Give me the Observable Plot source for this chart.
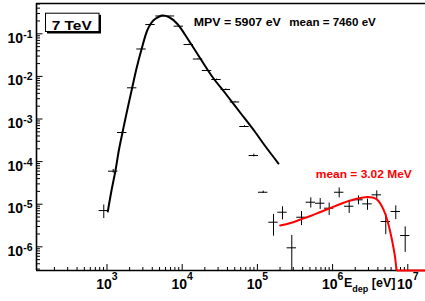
<!DOCTYPE html>
<html><head><meta charset="utf-8">
<script src="https://cdn.jsdelivr.net/npm/d3@7"></script>
<script src="https://cdn.jsdelivr.net/npm/@observablehq/plot@0.6"></script>
<style>
html,body{margin:0;padding:0;background:#fff;}
#chart{width:425px;height:301px;overflow:hidden;}
</style></head><body><div id="chart"></div>
<script>
// ---- data ----
const binWidthDecades = 0.125;

const lowBinCenters = [906,1209,1592,2163,2876,3789,5145,6883,9013,12240,16230,21370,28580,38000,50370,67380,89600];
const lowValues     = [7.1e-6,5.96e-5,4.82e-4,5.40e-3,0.0440,0.165,0.262,0.262,0.151,0.0561,0.0256,0.01374,0.00845,0.00493,0.00251,6.67e-4,1.39e-4];
const lowErrors     = [2.5e-6,6e-6,2e-5,1.2e-4,6e-4,1.5e-3,2e-3,2e-3,1.5e-3,8e-4,5e-4,3e-4,2e-4,1.5e-4,8e-5,3e-5,1e-5];

const highBinCenters = [119500,163800,215700,286700,385900,513000,684300,901000,1224000,1662000,2210000,2912000,3871000,5097000,6925000,9236000];
const highValues     = [1.91e-5,3.78e-6,6.49e-6,9.47e-7,4.95e-6,1.114e-5,1.055e-5,8.06e-6,1.91e-5,8.97e-6,1.268e-5,1.02e-5,1.66e-5,3.93e-6,6.74e-6,1.84e-6];
const highErrors     = [1.2e-6,2e-6,2.2e-6,9e-7,1.8e-6,3e-6,3e-6,2.6e-6,5e-6,2.9e-6,3e-6,3e-6,4e-6,2e-6,2.4e-6,1.1e-6];

const blackCurveX = [1025,1148,1297,1436,1607,1817,2163,2468,2876,3424,3906,4416,5420,6634,8580,12240,17520,25290,37650,59620,94340,128200,190800];
const blackCurveY = [6.74e-6,2.10e-5,6.18e-5,1.82e-4,4.82e-4,1.346e-3,5.40e-3,0.01533,0.0428,0.1195,0.184,0.225,0.269,0.248,0.1717,0.0696,0.02588,0.00968,0.00397,1.383e-3,4.82e-4,2.26e-4,9.02e-5];

const redCurveX = [201000,275600,374300,508300,690500,937800,1274000,1730000,2350000,2912000,3394000,3955000,4470000,5052000,5710000,6260000,6758000,7184000,8000000,17200000];
const redCurveY = [3.16e-6,3.62e-6,4.37e-6,5.28e-6,6.56e-6,8.14e-6,1.011e-5,1.221e-5,1.398e-5,1.476e-5,1.44e-5,1.255e-5,9.32e-6,5.73e-6,2.69e-6,1.26e-6,5.92e-7,2.78e-7,1e-9,1e-12];

const xDomain = [115.5, 1.72e7];
const yDomain = [2.78e-7, 0.5144];
const xMajorTicks = [1e3,1e4,1e5,1e6,1e7];
const yMajorTicks = [1e-1,1e-2,1e-3,1e-4,1e-5,1e-6];
const minorMultipliers = [2,3,4,5,6,7,8,9];
const decades = [1e-7,1e-6,1e-5,1e-4,1e-3,1e-2,1e-1,1e2,1e3,1e4,1e5,1e6,1e7];

const mpvLabel = "MPV = 5907 eV";
const meanLabel = "mean = 7460 eV";
const fitMeanLabel = "mean = 3.02 MeV";
const energyLabel = "7 TeV";

// ---- derived tables ----
const lowPts = lowBinCenters.map((x,i)=>({x, y: lowValues[i], e: lowErrors[i]}));
const highPts = highBinCenters.map((x,i)=>({x, y: highValues[i], e: highErrors[i]}));
const allPts = lowPts.concat(highPts);
const blackCurve = blackCurveX.map((x,i)=>({x, y: blackCurveY[i]}));
const redCurve = redCurveX.map((x,i)=>({x, y: redCurveY[i]}));
const half = Math.pow(10, binWidthDecades/2);
const yMin = yDomain[0];
const clampY = v => Math.max(v, yMin);

const minorX = decades.flatMap(d => minorMultipliers.map(m => m*d)).filter(v => v > xDomain[0] && v < xDomain[1]);
const minorY = decades.flatMap(d => minorMultipliers.map(m => m*d)).filter(v => v > yDomain[0] && v < yDomain[1]);

const W = 425, H = 301, mL = 36, mR = 0, mT = 3, mB = 31;
const innerW = W - mL - mR, innerH = H - mT - mB;
const FONT = "Liberation Sans, Arial, Helvetica, sans-serif";

const plot = Plot.plot({
  width: W, height: H,
  marginLeft: mL, marginRight: mR, marginTop: mT, marginBottom: mB,
  style: {fontFamily: FONT, background: "white", overflow: "visible"},
  x: {type: "log", domain: xDomain, axis: null},
  y: {type: "log", domain: yDomain, axis: null},
  marks: [
    // ticks
    Plot.ruleX(minorX, {x: d=>d, stroke: "black", strokeWidth: 1, insetTop: innerH - 3}),
    Plot.ruleX(xMajorTicks, {x: d=>d, stroke: "black", strokeWidth: 1, insetTop: innerH - 6}),
    Plot.ruleY(minorY, {y: d=>d, stroke: "black", strokeWidth: 1, insetRight: innerW - 4}),
    Plot.ruleY(yMajorTicks, {y: d=>d, stroke: "black", strokeWidth: 1, insetRight: innerW - 6.5}),
    // frame lines
    Plot.ruleY([yDomain[0]], {stroke: "black", strokeWidth: 1.6}),
    Plot.ruleY([yDomain[1]], {stroke: "black", strokeWidth: 1.4}),
    Plot.ruleX([xDomain[0]], {stroke: "black", strokeWidth: 1.6}),
    // data points: horizontal (bin) and vertical (error) bars
    Plot.ruleY(allPts, {y: "y", x1: d => d.x/half, x2: d => d.x*half, stroke: "black", strokeWidth: 1}),
    Plot.ruleX(allPts, {x: "x", y1: d => clampY(d.y - d.e), y2: d => d.y + d.e, stroke: "black", strokeWidth: 1}),
    // fitted curves
    Plot.line(blackCurve, {x: "x", y: "y", stroke: "black", strokeWidth: 2, curve: "catmull-rom"}),
    Plot.line(redCurve, {x: "x", y: d => clampY(d.y), stroke: "#ff0000", strokeWidth: 2, curve: "monotone-x"}),
    // tick labels
    Plot.text(yMajorTicks, {y: d=>d, frameAnchor: "left", dx: -4, dy: 9, textAnchor: "end", lineAnchor: "bottom",
      text: d => `10^${Math.round(Math.log10(d))}`, fontSize: 14, fontWeight: "bold", fill: "black"}),
    Plot.text(xMajorTicks, {x: d=>d, frameAnchor: "bottom", dy: 18.5, textAnchor: "middle", lineAnchor: "bottom",
      text: d => `10^${Math.round(Math.log10(d))}`, fontSize: 14, fontWeight: "bold", fill: "black"}),
    // annotations
    Plot.text([mpvLabel], {text: d=>d, frameAnchor: "top-left", dx: 193.3 - mL, dy: 25 - mT, textAnchor: "start", lineAnchor: "bottom", fontSize: 10.5, fontWeight: "bold", fill: "black"}),
    Plot.text([meanLabel], {text: d=>d, frameAnchor: "top-left", dx: 288.7 - mL, dy: 25 - mT, textAnchor: "start", lineAnchor: "bottom", fontSize: 10.5, fontWeight: "bold", fill: "black"}),
    Plot.text([fitMeanLabel], {text: d=>d, frameAnchor: "top-left", dx: 315.3 - mL, dy: 177.5 - mT, textAnchor: "start", lineAnchor: "bottom", fontSize: 10.5, fontWeight: "bold", fill: "#ff0000"})
  ]
});

document.getElementById("chart").appendChild(plot);
const svg = d3.select(plot);

// superscripts for tick labels & width fitting
svg.selectAll("text").each(function(){
  const t = this.textContent;
  const m = /^10\^(-?\d+)$/.exec(t);
  if (m) {
    const neg = m[1].startsWith("-");
    this.textContent = "10";
    d3.select(this).append("tspan").attr("dy", neg ? -5 : -9.5).attr("font-size", 10.5).text(m[1]);
    return;
  }
  const lengths = {[mpvLabel]: 87, [meanLabel]: 86.6, [fitMeanLabel]: 96};
  if (lengths[t] !== undefined) {
    d3.select(this).attr("textLength", lengths[t]).attr("lengthAdjust", "spacingAndGlyphs");
  }
});

// "7 TeV" pave with shadow
const pave = svg.append("g").attr("text-anchor", "start");
pave.append("rect").attr("x", 47).attr("y", 14.8).attr("width", 54).attr("height", 18.7).attr("fill", "black");
pave.append("rect").attr("x", 45.5).attr("y", 13.2).attr("width", 53.5).attr("height", 18.3).attr("fill", "white").attr("stroke", "black").attr("stroke-width", 1);
pave.append("text").attr("x", 51.7).attr("y", 30).attr("text-anchor", "start").attr("font-family", FONT).attr("font-weight", "bold").attr("font-size", 13)
  .attr("textLength", 40).attr("lengthAdjust", "spacingAndGlyphs").attr("fill", "black").text(energyLabel);

// x axis title E_dep [eV]
const xt = svg.append("text").attr("x", 344).attr("y", 286.7).attr("text-anchor", "start").attr("font-family", FONT).attr("font-weight", "bold").attr("font-size", 12.5).attr("fill", "black");
xt.append("tspan").text("E");
xt.append("tspan").attr("font-size", 9).attr("dy", 5).text("dep");
xt.append("tspan").attr("dy", -5).text("\u00a0[eV]");
</script>
</body></html>
